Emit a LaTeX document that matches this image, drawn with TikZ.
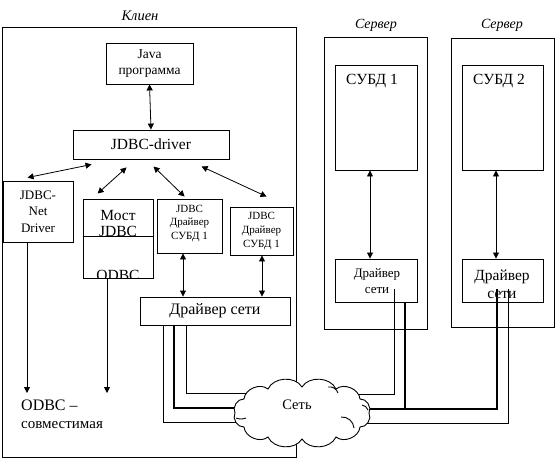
\documentclass[tikz,border=0pt]{standalone}
\usepackage{fontspec}
\setmainfont{Liberation Serif}
\usetikzlibrary{arrows.meta,calc}
\begin{document}
\begin{tikzpicture}[x=1pt,y=-1pt,
  box/.style={draw,line width=0.9pt,inner sep=0pt,align=center},
  lbl/.style={inner sep=0pt,align=center},
  tip/.tip={Triangle[length=6pt,width=6pt]},
  darr/.style={line width=0.8pt,tip-tip},
  sarr/.style={line width=0.8pt,-tip},
  thin/.style={line width=0.9pt},
  thick/.style={line width=2.4pt},
  puff/.style={bend right=62}]
\useasboundingbox (0,0) rectangle (555,459);
% client
\node[box,minimum width=294pt,minimum height=430pt] (client) at (149,242) {};
\node[lbl,font=\fontsize{14.5}{16}\selectfont\itshape] (clientl) at (140,16) {Клиен};
\node[box,minimum width=87pt,minimum height=41pt,font=\fontsize{13.5}{16}\selectfont] (java) at (149.5,63.5) {Java\\программа};
\node[box,minimum width=156pt,minimum height=29pt,font=\fontsize{15.5}{17}\selectfont] (jd) at (151,144.5) {JDBC-driver};
\node[box,minimum width=70pt,minimum height=61pt,font=\fontsize{13}{16.5}\selectfont] (net) at (38,211.5) {JDBC-\\Net\\Driver};
\node[box,minimum width=70pt,minimum height=79pt] (most) at (118,238.5) {};
\node[lbl,font=\fontsize{15.5}{17}\selectfont] (mostl1) at (118,215) {Мост};
\node[lbl,font=\fontsize{15.5}{17}\selectfont] (mostl2) at (118,231) {JDBC};
\begin{scope}
\clip (83,199) rectangle (153,278);
\node[lbl,font=\fontsize{15.5}{17}\selectfont] (mostl3) at (118,275) {ODBC};
\end{scope}
\draw[thin] (most.west |- 0,236) coordinate (mdl) -- (most.east |- 0,236) coordinate (mdr);
\node[box,minimum width=65pt,minimum height=54pt] (d1) at (189.5,226) {};
\node[lbl,font=\fontsize{11}{13.5}\selectfont] (d1l) at (189.5,223.5) {JDBC\\Драйвер\\СУБД 1};
\node[box,minimum width=63pt,minimum height=48pt] (d2) at (261.5,231) {};
\node[lbl,font=\fontsize{11}{14}\selectfont] (d2l) at (261.5,231.5) {JDBC\\Драйвер\\СУБД 1};
\node[box,minimum width=150pt,minimum height=28pt,font=\fontsize{16}{17}\selectfont] (ds) at (215,311) {Драйвер сети};
\node[lbl,anchor=west,font=\fontsize{16}{17}\selectfont] (odbc1) at (21,405) {ODBC –};
\node[lbl,anchor=west,font=\fontsize{15}{17}\selectfont] (odbc2) at (21,425) {совместимая};
% servers
\node[box,minimum width=103pt,minimum height=292pt] (srv1) at (375.5,183) {};
\node[lbl,font=\fontsize{14}{16}\selectfont\itshape] (srv1l) at (376,25) {Сервер};
\node[box,minimum width=103pt,minimum height=289pt] (srv2) at (502.5,182.5) {};
\node[lbl,font=\fontsize{14}{16}\selectfont\itshape] (srv2l) at (502,25) {Сервер};
\node[box,minimum width=82pt,minimum height=105pt] (subd1) at (376,117.5) {};
\node[lbl,font=\fontsize{15.5}{17}\selectfont] (subd1l) at (372,81) {СУБД 1};
\node[box,minimum width=81pt,minimum height=105pt] (subd2) at (502.5,117.5) {};
\node[lbl,font=\fontsize{15.5}{17}\selectfont] (subd2l) at (499,81) {СУБД 2};
\node[box,minimum width=82pt,minimum height=43pt] (sd1) at (376,280.5) {};
\node[lbl,font=\fontsize{13}{16}\selectfont] (sd1l) at (377,281) {Драйвер\\сети};
\node[box,minimum width=81pt,minimum height=43pt] (sd2) at (502.5,280.5) {};
\node[lbl,font=\fontsize{15.5}{18}\selectfont] (sd2l) at (502,284) {Драйвер\\сети};
% arrows in client
\draw[darr] (java.south) -- (jd.north);
\draw[darr] ($(jd.south west)+(19,5)$) -- ($(net.north west)+(25,-3)$);
\draw[darr] ($(jd.south west)+(54,8)$) -- ($(most.north west)+(15,-5)$);
\draw[darr] ($(jd.south west)+(81,7)$) -- ($(d1.north west)+(28,-2)$);
\draw[darr] ($(jd.south west)+(129,7)$) -- ($(d2.north west)+(37,-10)$);
\draw[darr] (d1.south -| 183,0) -- (ds.north -| 183,0);
\draw[darr] (d2.south -| 262,0) -- (ds.north -| 262,0);
\draw[sarr] (net.south -| 27,0) -- (27,393) coordinate (e1);
\draw[sarr] (most.south -| 107,0) -- (107,393) coordinate (e2);
\draw[darr] (subd1.south -| 370,0) -- (sd1.north -| 370,0);
\draw[darr] (subd2.south -| 496,0) -- (sd2.north -| 496,0);
% network lines
\coordinate (cc) at (302,413);
\draw[thin] (ds.south -| 163,0) -- (163,422) -- (cc |- 0,422);
\draw[thick] (ds.south -| 174,0) -- (174,408) -- (cc |- 0,408);
\draw[thin] (ds.south -| 186,0) -- (186,393) -- (cc |- 0,393);
\draw[thin] (394,289) -- (394,394) -- (cc |- 0,394);
\draw[thick] (sd1.south -| 405,0) -- (405,409);
\draw[thick] (cc |- 0,409) -- (497,409) -- (497,289);
\draw[thin] (508,289) -- (508,423) -- (cc |- 0,423);
% cloud
\draw[fill=white,line width=0.9pt] (369,413) to[puff] (360,399) to[puff] (336,389)
  to[puff] (302,387) to[puff] (268,389) to[puff] (244,399) to[puff] (235,413)
  to[puff] (244,427) to[puff] (268,437) to[puff] (302,439) to[puff] (336,437)
  to[puff] (360,427) to[puff] cycle;
\draw[thin] (236,418) to[bend right=20] (246,418);
\draw[thin] (328,387) to[bend left=40] (338,393);
\draw[thin] (362,405) to[bend left=30] (368,410);
\draw[thin] (341,417) to[bend left=45] (354,428);
\node[lbl,font=\fontsize{14.5}{16}\selectfont] (cloudl) at (297,405) {Сеть};
\end{tikzpicture}
\end{document}
